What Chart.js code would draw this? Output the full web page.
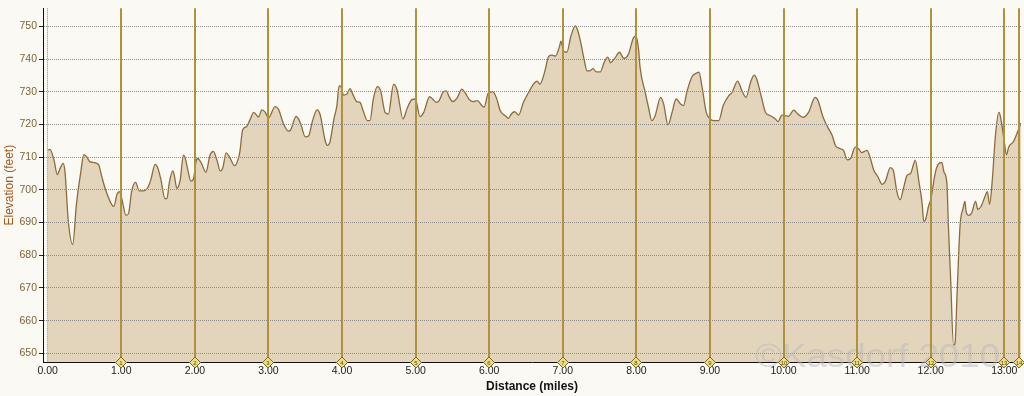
<!DOCTYPE html>
<html><head><meta charset="utf-8">
<script src="https://cdn.jsdelivr.net/npm/chart.js@4.4.1/dist/chart.umd.min.js"></script>
<style>
html,body{margin:0;padding:0;background:#faf9f4;}
#wrap{position:relative;width:1024px;height:396px;}
</style></head><body>
<div id="wrap"><canvas id="c" width="1024" height="396"></canvas></div>
<script>
// Distance along the course (miles)
const distances = [
0.00,0.03,0.086,0.13,0.167,0.21,0.235,0.28,0.34,0.39,0.45,0.49,0.53,0.575,0.69,0.73,0.78,0.87,0.90,0.94,0.975,
1.005,1.065,1.10,1.14,1.195,1.245,1.30,1.355,1.40,1.46,1.49,1.535,1.595,1.62,1.655,1.70,1.72,1.755,1.80,1.845,1.87,1.905,1.945,1.98,
2.015,2.04,2.09,2.15,2.205,2.25,2.30,2.345,2.38,2.425,2.47,2.54,2.57,2.61,2.65,2.705,2.75,2.80,2.865,2.91,2.955,
3.00,3.09,3.135,3.205,3.27,3.30,3.375,3.42,3.45,3.50,3.545,3.60,3.66,3.70,3.77,3.80,3.835,3.89,3.93,3.96,3.985,
4.02,4.065,4.11,4.145,4.20,4.245,4.28,4.345,4.38,4.425,4.48,4.525,4.585,4.63,4.70,4.745,4.83,4.88,4.95,4.995,
5.06,5.11,5.19,5.23,5.28,5.32,5.37,5.415,5.46,5.505,5.56,5.63,5.67,5.73,5.78,5.84,5.90,5.93,5.99,
6.05,6.10,6.15,6.22,6.26,6.30,6.345,6.40,6.465,6.535,6.60,6.65,6.69,6.75,6.81,6.855,6.90,6.955,6.975,
7.01,7.055,7.11,7.17,7.20,7.24,7.29,7.33,7.375,7.41,7.455,7.51,7.56,7.61,7.65,7.71,7.77,7.83,7.89,7.96,7.995,
8.03,8.05,8.12,8.165,8.21,8.255,8.33,8.37,8.43,8.485,8.54,8.60,8.64,8.69,8.755,8.825,8.85,8.89,8.95,8.995,
9.05,9.12,9.18,9.255,9.30,9.375,9.435,9.49,9.55,9.60,9.635,9.695,9.755,9.82,9.89,9.925,9.98,
10.02,10.065,10.14,10.19,10.265,10.34,10.43,10.47,10.53,10.60,10.66,10.705,10.77,10.815,10.865,10.91,10.975,
11.02,11.06,11.10,11.135,11.18,11.225,11.28,11.34,11.385,11.45,11.49,11.54,11.585,11.63,11.68,11.725,11.77,11.79,11.84,11.885,11.905,11.93,11.97,
12.00,12.06,12.10,12.15,12.18,12.22,12.24,12.27,12.31,12.33,12.36,12.40,12.44,12.465,12.48,12.515,12.555,12.61,12.64,12.685,12.73,12.77,12.80,12.835,12.88,12.925,12.95,12.995,
13.03,13.06,13.125,13.18,13.227
];
// Elevation (feet)
const elevations = [
712.1,712.4,709.1,704.7,706.5,708.1,705.5,690.4,683.3,695.5,705.5,710.8,710.1,708.6,707.8,704.5,700.5,695.5,695.0,698.5,699.5,
697.5,692.2,692.9,699.5,702.3,699.7,699.7,700.5,703.0,707.8,707.1,703.5,697.3,697.4,702.5,705.8,704.5,700.5,703.0,710.6,709.6,706.0,702.7,703.3,
708.6,709.6,708.1,705.4,710.6,711.8,709.1,705.8,706.8,711.3,710.1,707.4,708.2,711.5,718.4,719.4,721.5,723.7,722.3,724.5,723.8,
722.0,725.5,724.7,720.2,718.0,718.3,722.5,721.2,719.3,716.2,716.5,721.2,724.5,723.2,715.2,713.6,714.6,721.7,725.8,731.8,731.6,
729.0,729.3,731.0,729.3,727.0,726.8,724.7,721.2,721.2,727.8,731.6,730.3,723.7,723.2,732.3,730.8,721.7,724.7,727.6,727.8,
722.4,723.7,728.5,727.8,726.8,727.3,729.8,730.3,728.3,727.0,728.0,730.8,729.8,727.6,727.0,727.3,725.8,725.3,729.8,
730.0,728.0,724.2,722.7,721.9,723.2,723.9,722.9,726.8,729.8,732.3,733.3,732.3,735.8,740.9,741.2,740.9,743.9,745.5,
742.4,742.1,747.0,750.2,749.0,745.5,739.9,736.4,736.5,737.1,736.1,736.1,738.9,740.6,738.9,740.4,742.1,740.2,741.4,746.5,747.0,
742.9,737.5,729.8,725.2,721.2,722.7,728.3,726.3,719.9,723.7,727.8,726.3,725.8,730.3,734.6,735.8,736.0,731.8,723.7,721.9,
721.2,721.2,725.8,728.8,729.8,733.3,730.3,728.3,732.8,735.1,733.9,728.8,723.7,722.7,721.7,720.9,722.9,
722.7,722.5,724.4,723.3,722.2,723.7,728.3,727.3,722.7,719.2,716.7,713.6,712.6,712.1,709.2,709.6,713.1,
712.6,711.4,711.8,712.1,709.6,706.1,704.1,701.7,702.7,706.8,706.1,699.5,697.0,700.5,704.5,705.0,708.1,709.1,702.5,695.5,690.4,690.9,695.0,
697.0,705.0,707.8,708.4,705.5,702.0,689.0,673.2,652.5,653.0,669.2,689.4,694.4,696.5,693.4,692.2,692.9,696.5,694.0,695.0,697.5,699.5,695.6,702.5,716.7,723.7,722.2,715.6,
710.8,713.1,714.8,717.7,720.5
];
// Mile split markers along the bottom
const markerMiles = [1,2,3,4,5,6,7,8,9,10,11,12,13,13.2];
const markerLabels = ['1','2','3','4','5','6','7','8','9','10','11','12','13','14'];
const xTitle = 'Distance (miles)';
const yTitle = 'Elevation (feet)';
const watermarkText = '\u00A9Kasdorf 2010';

const points = distances.map((d, i) => ({x: d, y: elevations[i]}));
const FONT = '"Liberation Sans", Arial, sans-serif';

const overlay = {
  id: 'overlay',
  afterDraw(chart) {
    const ctx = chart.ctx, xs = chart.scales.x, area = chart.chartArea;
    // watermark
    ctx.save();
    ctx.font = '34px ' + FONT;
    ctx.fillStyle = 'rgba(185,185,185,0.5)';
    ctx.textBaseline = 'alphabetic';
    const w = ctx.measureText(watermarkText).width;
    ctx.translate(755, 367);
    ctx.scale(245 / w, 1);
    ctx.fillText(watermarkText, 0, 0);
    ctx.restore();
    // split lines
    ctx.save();
    ctx.strokeStyle = '#b0913e';
    ctx.lineWidth = 2;
    markerMiles.forEach(m => {
      const px = Math.round(xs.getPixelForValue(m));
      ctx.beginPath();
      ctx.moveTo(px, area.top);
      ctx.lineTo(px, area.bottom);
      ctx.stroke();
    });
    // diamonds
    markerMiles.forEach((m, i) => {
      const px = Math.round(xs.getPixelForValue(m)), py = area.bottom + 0.5;
      ctx.beginPath();
      ctx.moveTo(px, py - 5.5);
      ctx.lineTo(px + 5.5, py);
      ctx.lineTo(px, py + 5.5);
      ctx.lineTo(px - 5.5, py);
      ctx.closePath();
      ctx.fillStyle = '#ecdc84';
      ctx.fill();
      ctx.strokeStyle = '#7a6826';
      ctx.lineWidth = 1;
      ctx.stroke();
      ctx.fillStyle = '#5a4a12';
      ctx.font = '6px ' + FONT;
      ctx.textAlign = 'center';
      ctx.textBaseline = 'middle';
      ctx.fillText(markerLabels[i], px, py + 0.5);
    });
    ctx.restore();
  }
};

new Chart(document.getElementById('c'), {
  type: 'line',
  data: {
    datasets: [{
      data: points,
      borderColor: '#8c6c3c',
      borderWidth: 1.3,
      backgroundColor: '#e3d5bb',
      fill: 'start',
      pointRadius: 0,
      cubicInterpolationMode: 'monotone'
    }]
  },
  options: {
    responsive: false,
    animation: false,
    devicePixelRatio: 1,
    layout: {padding: {left: 0, right: 3, top: 5, bottom: 0}},
    plugins: {legend: {display: false}, tooltip: {enabled: false}},
    scales: {
      x: {
        type: 'linear',
        min: -0.064,
        max: 13.227,
        afterFit(s) { s.height = 34; },
        ticks: {
          stepSize: 1, includeBounds: false, autoSkip: false, maxRotation: 0,
          padding: 3,
          color: '#222',
          font: {family: FONT, size: 10.5},
          callback: v => Number(v).toFixed(2)
        },
        grid: {
          z: 1, drawTicks: false,
          color: c => (c.tick && c.tick.value === 0) ? '#8c8c8c' : 'rgba(0,0,0,0)'
        },
        border: {z: 1, color: '#111', width: 1, dash: [1, 1]},
        title: {display: true, text: xTitle, color: '#111', padding: {top: 0, bottom: 2},
          font: {family: FONT, size: 12, weight: 'bold'}}
      },
      y: {
        min: 647.36,
        max: 755.55,
        afterFit(s) { s.width = 43; },
        ticks: {
          stepSize: 10, includeBounds: false, padding: 2,
          color: '#7d6536',
          font: {family: FONT, size: 10.5}
        },
        grid: {z: 1, color: '#8c8c8c', tickLength: 4, tickColor: '#222', drawTicks: true},
        border: {z: 1, color: '#111', width: 1, dash: [1, 1]},
        title: {display: true, text: yTitle, color: '#a0581a', padding: {top: 2, bottom: 0},
          font: {family: FONT, size: 12}}
      }
    }
  },
  plugins: [overlay]
});
</script>
</body></html>
